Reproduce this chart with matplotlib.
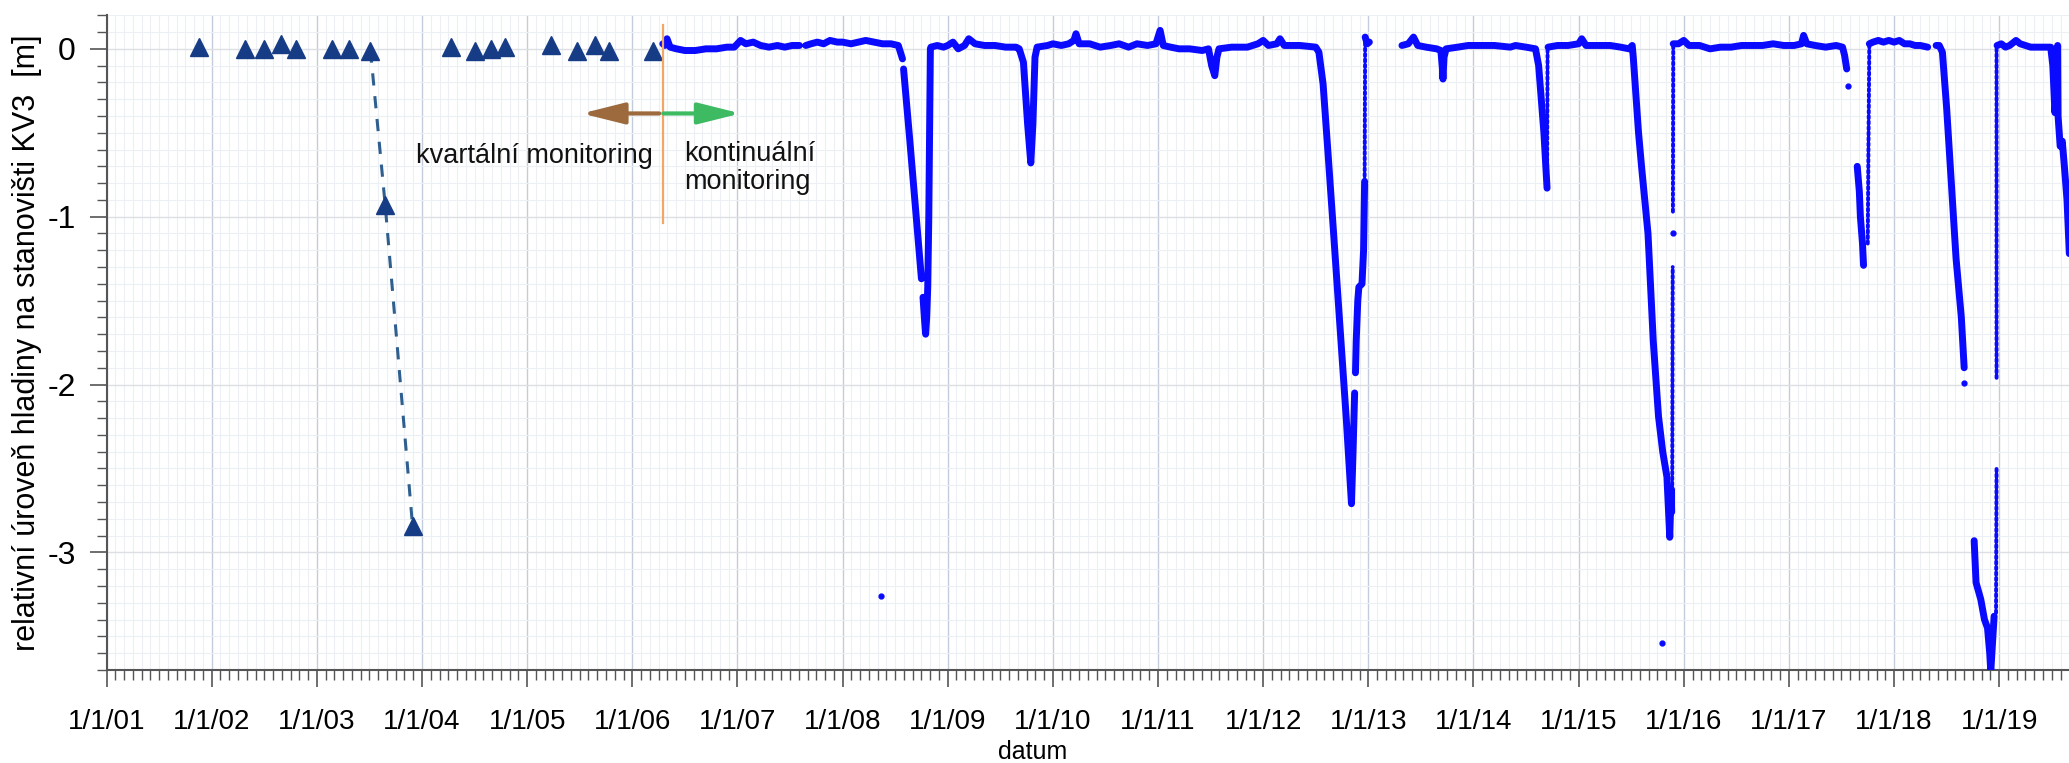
import numpy as np
import matplotlib
matplotlib.use('Agg')
import matplotlib.pyplot as plt
from matplotlib.ticker import MultipleLocator, FixedLocator, FuncFormatter

plt.rcParams['font.family'] = ['Liberation Sans', 'DejaVu Sans']
plt.rcParams['axes.unicode_minus'] = False

nan = np.nan

# quarterly manual measurements (decimal year, level in m)
quarterly_year = [2001.88, 2002.32, 2002.50, 2002.66, 2002.80, 2003.14, 2003.31, 2003.51,
                  2003.65, 2003.91, 2004.28, 2004.50, 2004.66, 2004.79, 2005.23, 2005.47,
                  2005.65, 2005.78, 2006.20]
quarterly_level = [0.01, 0.0, 0.0, 0.03, 0.0, 0.0, 0.0, -0.01,
                   -0.93, -2.84, 0.01, -0.01, 0.0, 0.01, 0.02, -0.01,
                   0.02, -0.01, -0.01]

# continuous logger record, NaN marks a gap
logger_year = [
    2006.29, 2006.31, 2006.33, 2006.36, 2006.42, 2006.50, 2006.60, 2006.70, 2006.80, 2006.90,
    2006.97, 2007.00, 2007.03, 2007.08, 2007.15, 2007.22, 2007.30, 2007.38, 2007.45, 2007.52,
    2007.59, nan,
    2007.65, 2007.70, 2007.76, 2007.82, 2007.88, 2007.95, 2008.00, 2008.08, 2008.15, 2008.22,
    2008.30, 2008.38, 2008.46, 2008.53, 2008.55, 2008.57, nan,
    2008.58, 2008.64, 2008.70, 2008.75, nan,
    2008.765, 2008.78, 2008.79, 2008.80, 2008.81, 2008.82, 2008.83, 2008.835, 2008.84, 2008.90,
    2008.96, 2009.00, 2009.05, 2009.10, 2009.16, 2009.20, 2009.26, 2009.35, 2009.45, 2009.55,
    2009.65, 2009.68, 2009.72, 2009.76, 2009.79, 2009.81, 2009.83, 2009.85, 2009.95, 2010.00,
    2010.08, 2010.15, 2010.20, 2010.22, 2010.25, 2010.35, 2010.45, 2010.55, 2010.63, 2010.72,
    2010.80, 2010.90, 2010.98, 2011.02, 2011.05, 2011.12, 2011.20, 2011.30, 2011.42, 2011.48,
    2011.51, 2011.54, 2011.56, 2011.58, 2011.70, 2011.85, 2011.95, 2012.00, 2012.05, 2012.13,
    2012.16, 2012.20, 2012.35, 2012.50, 2012.53, 2012.57, 2012.62, 2012.67, 2012.74, 2012.79,
    2012.84, 2012.855, 2012.87, nan,
    2012.878, 2012.885, 2012.90, 2012.91, 2012.94, 2012.955, 2012.965, nan,
    2012.97, 2012.99, 2013.01, nan,
    2013.32, 2013.38, 2013.43, 2013.47, 2013.55, 2013.65, 2013.69, 2013.705, 2013.71, 2013.72,
    2013.74, 2013.85, 2013.95, 2014.05, 2014.20, 2014.35, 2014.40, 2014.50, 2014.59, 2014.62,
    2014.67, 2014.70, nan,
    2014.71, 2014.80, 2014.90, 2015.00, 2015.03, 2015.07, 2015.20, 2015.30, 2015.40, 2015.48,
    2015.51, 2015.52, 2015.57, 2015.60, 2015.66, 2015.71, 2015.76, 2015.80, 2015.84, 2015.867,
    2015.88, 2015.885, nan,
    2015.90, 2015.95, 2016.00, 2016.05, 2016.15, 2016.25, 2016.35, 2016.45, 2016.55, 2016.65,
    2016.75, 2016.85, 2016.95, 2017.05, 2017.12, 2017.14, 2017.17, 2017.25, 2017.35, 2017.45,
    2017.51, 2017.53, 2017.55, nan,
    2017.65, 2017.67, 2017.68, 2017.70, 2017.71, nan,
    2017.765, 2017.80, 2017.85, 2017.90, 2017.95, 2018.00, 2018.05, 2018.10, 2018.15, 2018.20,
    2018.25, 2018.32, nan,
    2018.40, 2018.43, 2018.46, 2018.50, 2018.55, 2018.59, 2018.64, 2018.667, nan,
    2018.762, 2018.78, 2018.825, 2018.86, 2018.889, 2018.91, 2018.92, 2018.937, 2018.952, nan,
    2018.98, 2019.02, 2019.06, 2019.10, 2019.16, 2019.20, 2019.25, 2019.30, 2019.40, 2019.49,
    2019.51, 2019.53, 2019.545, 2019.556, 2019.56, 2019.58, 2019.60, 2019.62, 2019.645, 2019.667,
]
logger_level = [
    0.03, 0.02, 0.06, 0.01, 0.0, -0.01, -0.01, 0.0, 0.0, 0.01,
    0.01, 0.03, 0.05, 0.03, 0.04, 0.02, 0.01, 0.02, 0.01, 0.02,
    0.02, nan,
    0.02, 0.03, 0.04, 0.03, 0.05, 0.04, 0.04, 0.03, 0.04, 0.05,
    0.04, 0.03, 0.03, 0.02, -0.02, -0.06, nan,
    -0.12, -0.55, -1.0, -1.37, nan,
    -1.48, -1.62, -1.70, -1.60, -1.42, -1.0, -0.3, 0.0, 0.01, 0.02,
    0.01, 0.02, 0.04, 0.0, 0.02, 0.06, 0.03, 0.02, 0.02, 0.01,
    0.01, 0.0, -0.08, -0.45, -0.68, -0.45, -0.05, 0.01, 0.02, 0.03,
    0.02, 0.03, 0.05, 0.09, 0.03, 0.03, 0.01, 0.02, 0.03, 0.01,
    0.03, 0.02, 0.03, 0.11, 0.02, 0.01, 0.0, 0.0, -0.01, 0.0,
    -0.10, -0.16, -0.05, 0.0, 0.01, 0.01, 0.03, 0.05, 0.02, 0.03,
    0.06, 0.02, 0.02, 0.01, -0.02, -0.21, -0.65, -1.10, -1.74, -2.20,
    -2.71, -2.40, -2.05, nan,
    -1.93, -1.74, -1.50, -1.42, -1.40, -1.20, -0.79, nan,
    0.07, 0.03, 0.04, nan,
    0.02, 0.03, 0.07, 0.02, 0.01, 0.0, -0.01, -0.12, -0.18, -0.05,
    0.0, 0.01, 0.02, 0.02, 0.02, 0.01, 0.02, 0.01, 0.0, -0.10,
    -0.50, -0.83, nan,
    0.01, 0.02, 0.02, 0.03, 0.06, 0.02, 0.02, 0.02, 0.01, 0.0,
    0.02, -0.05, -0.50, -0.71, -1.10, -1.74, -2.19, -2.40, -2.55, -2.91,
    -2.62, -2.76, nan,
    0.03, 0.03, 0.05, 0.02, 0.02, 0.0, 0.01, 0.01, 0.02, 0.02,
    0.02, 0.03, 0.02, 0.02, 0.03, 0.08, 0.03, 0.02, 0.01, 0.02,
    0.01, -0.04, -0.12, nan,
    -0.70, -0.85, -1.0, -1.16, -1.29, nan,
    0.03, 0.04, 0.05, 0.04, 0.05, 0.04, 0.05, 0.03, 0.03, 0.02,
    0.02, 0.01, nan,
    0.02, 0.02, -0.02, -0.35, -0.85, -1.25, -1.60, -1.90, nan,
    -2.93, -3.18, -3.28, -3.40, -3.45, -3.60, -3.71, -3.54, -3.38, nan,
    0.02, 0.03, 0.01, 0.02, 0.05, 0.03, 0.02, 0.01, 0.01, 0.01,
    -0.10, -0.38, -0.25, 0.02, -0.40, -0.58, -0.55, -0.70, -0.90, -1.22,
]

# fast recoveries, logged as sparse points
recovery_year = [2012.965, 2012.97, nan, 2014.70, 2014.705, nan, 2015.89, 2015.895, nan,
                 2015.897, 2015.90, nan, 2017.75, 2017.755, 2017.765, nan,
                 2018.97, 2018.975, nan, 2018.975, 2018.975]
recovery_level = [-0.79, 0.07, nan, -0.83, 0.0, nan, -2.76, -1.30, nan,
                  -0.97, 0.03, nan, -1.16, -0.72, 0.03, nan,
                  -3.36, -2.49, nan, -1.96, 0.02]

# single stray readings
outlier_year = [2008.365, 2015.79, 2015.895, 2017.56, 2018.667]
outlier_level = [-3.26, -3.54, -1.10, -0.22, -1.99]

years = list(range(2001, 2020))
year_labels = ['1/1/%02d' % (y % 100) for y in years]

fig = plt.figure(figsize=(20.69, 7.63), dpi=100)
ax = fig.add_axes([0.0515, 0.122, 0.9485, 0.858])

# grid
ax.set_axisbelow(True)
ax.grid(which='major', axis='x', color='#c3ccdb', lw=1.0)
ax.grid(which='major', axis='y', color='#dcdfe4', lw=1.0)
ax.grid(which='minor', axis='both', color='#eceff4', lw=0.8)

# quarterly data
ax.plot(quarterly_year[7:10], quarterly_level[7:10], ls=(0, (4, 3.5)), lw=2.2,
        color='#2f5f8f', zorder=3)
ax.plot(quarterly_year, quarterly_level, ls='none', marker='^', ms=13,
        color='#173c86', zorder=4)

# logger data
ax.plot(logger_year, logger_level, color='#0a0aff', lw=5, solid_joinstyle='round',
        solid_capstyle='round', zorder=5)
ax.plot(recovery_year, recovery_level, color='#0a0aff', lw=2.8,
        ls=(0, (0.6, 0.8)), dash_capstyle='round', zorder=5)
ax.plot(outlier_year, outlier_level, ls='none', marker='o', ms=3.5,
        color='#0a0aff', zorder=5)

# switch from quarterly to continuous monitoring
ax.plot([2006.29, 2006.29], [0.14, -1.04], color='#f2a766', lw=1.6, zorder=6)
arrow_style = '-|>,head_length=2.6,head_width=0.65'
ax.annotate('', xy=(2005.52, -0.385), xytext=(2006.257, -0.385),
            arrowprops=dict(arrowstyle=arrow_style, color='#9c6a3c', lw=3,
                            shrinkA=0, shrinkB=0, mutation_scale=10), zorder=6)
ax.annotate('', xy=(2007.03, -0.385), xytext=(2006.295, -0.385),
            arrowprops=dict(arrowstyle=arrow_style, color='#3dba62', lw=3,
                            shrinkA=0, shrinkB=0, mutation_scale=10), zorder=6)
ax.text(2006.20, -0.64, 'kvartální monitoring', ha='right', va='center',
        fontsize=19.5, color='#111111')
ax.text(2006.49, -0.71, 'kontinuální\nmonitoring', ha='left', va='center',
        fontsize=19.5, color='#111111', linespacing=1.1)

# axes
ax.set_xlim(2001, 2019.664)
ax.set_ylim(-3.7, 0.2)
ax.xaxis.set_major_locator(FixedLocator(years))
ax.xaxis.set_major_formatter(FuncFormatter(lambda v, p: year_labels[int(round(v)) - 2001]
                                           if 2001 <= round(v) <= 2019 else ''))
ax.xaxis.set_minor_locator(MultipleLocator(1 / 12))
ax.yaxis.set_major_locator(MultipleLocator(1))
ax.yaxis.set_minor_locator(MultipleLocator(0.1))
ax.yaxis.set_major_formatter(FuncFormatter(lambda v, p: '%d' % round(v)))

ax.tick_params(axis='x', which='major', length=12, width=1.2, color='#555555',
               labelsize=20, pad=16)
ax.tick_params(axis='x', which='minor', length=7, width=1.0, color='#555555')
ax.tick_params(axis='y', which='major', length=12, width=1.2, color='#555555',
               labelsize=23, pad=10)
ax.tick_params(axis='y', which='minor', length=7, width=1.0, color='#555555')

for side in ('top', 'right'):
    ax.spines[side].set_visible(False)
for side in ('left', 'bottom'):
    ax.spines[side].set_color('#555555')
    ax.spines[side].set_linewidth(1.5)

ax.set_ylabel('relativní úroveň hladiny na stanovišti KV3  [m]', fontsize=22, labelpad=4)
ax.set_xlabel('datum', fontsize=18)
ax.xaxis.label.set_va('center')
ax.xaxis.set_label_coords(0.472, -0.125)

fig.savefig('out.png', dpi=100)
